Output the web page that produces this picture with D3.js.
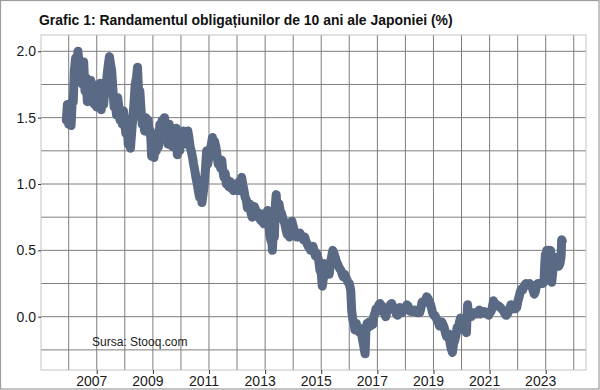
<!DOCTYPE html>
<html><head><meta charset="utf-8">
<script src="https://cdn.jsdelivr.net/npm/d3@7"></script>
<style>body{margin:0;background:#fff}svg{display:block;font-family:"Liberation Sans",Arial,Helvetica,sans-serif}</style>
</head><body><svg id="c" width="600" height="390"></svg>
<script>
const titleText = "Grafic 1: Randamentul obligațiunilor de 10 ani ale Japoniei (%)";
const sourceText = "Sursa: Stooq.com";
const xTickYears = [2007, 2009, 2011, 2013, 2015, 2017, 2019, 2021, 2023];
const xGridYears = [2006, 2007, 2008, 2009, 2010, 2011, 2012, 2013, 2014, 2015, 2016, 2017, 2018, 2019, 2020, 2021, 2022, 2023, 2024];
const yTicks = [0, 0.5, 1, 1.5, 2];
const yTickLabels = ["0.0", "0.5", "1.0", "1.5", "2.0"];
const yGrid = [-0.25, 0, 0.25, 0.5, 0.75, 1, 1.25, 1.5, 1.75, 2];

const dates = [
"2005-12-01","2005-12-15","2006-01-01","2006-01-15","2006-02-01","2006-02-15","2006-03-01","2006-03-15","2006-04-01","2006-04-15","2006-05-01","2006-05-15","2006-06-01","2006-06-15","2006-07-01","2006-07-15","2006-08-01","2006-08-15","2006-09-01","2006-09-15","2006-10-01","2006-10-15","2006-11-01","2006-11-15","2006-12-01","2006-12-15",
"2007-01-01","2007-01-15","2007-02-01","2007-02-15","2007-03-01","2007-03-15","2007-04-01","2007-04-15","2007-05-01","2007-05-15","2007-06-01","2007-06-15","2007-07-01","2007-07-15","2007-08-01","2007-08-15","2007-09-01","2007-09-15","2007-10-01","2007-10-15","2007-11-01","2007-11-15","2007-12-01","2007-12-15",
"2008-01-01","2008-01-15","2008-02-01","2008-02-15","2008-03-01","2008-03-15","2008-04-01","2008-04-15","2008-05-01","2008-05-15","2008-06-01","2008-06-15","2008-07-01","2008-07-15","2008-08-01","2008-08-15","2008-09-01","2008-09-15","2008-10-01","2008-10-15","2008-11-01","2008-11-15","2008-12-01","2008-12-15",
"2009-01-01","2009-01-15","2009-02-01","2009-02-15","2009-03-01","2009-03-15","2009-04-01","2009-04-15","2009-05-01","2009-05-15","2009-06-01","2009-06-15","2009-07-01","2009-07-15","2009-08-01","2009-08-15","2009-09-01","2009-09-15","2009-10-01","2009-10-15","2009-11-01","2009-11-15","2009-12-01","2009-12-15",
"2010-01-01","2010-01-15","2010-02-01","2010-02-15","2010-03-01","2010-03-15","2010-04-01","2010-04-15","2010-05-01","2010-05-15","2010-06-01","2010-06-15","2010-07-01","2010-07-15","2010-08-01","2010-08-15","2010-09-01","2010-09-15","2010-10-01","2010-10-15","2010-11-01","2010-11-15","2010-12-01","2010-12-15",
"2011-01-01","2011-01-15","2011-02-01","2011-02-15","2011-03-01","2011-03-15","2011-04-01","2011-04-15","2011-05-01","2011-05-15","2011-06-01","2011-06-15","2011-07-01","2011-07-15","2011-08-01","2011-08-15","2011-09-01","2011-09-15","2011-10-01","2011-10-15","2011-11-01","2011-11-15","2011-12-01","2011-12-15",
"2012-01-01","2012-01-15","2012-02-01","2012-02-15","2012-03-01","2012-03-15","2012-04-01","2012-04-15","2012-05-01","2012-05-15","2012-06-01","2012-06-15","2012-07-01","2012-07-15","2012-08-01","2012-08-15","2012-09-01","2012-09-15","2012-10-01","2012-10-15","2012-11-01","2012-11-15","2012-12-01","2012-12-15",
"2013-01-01","2013-01-15","2013-02-01","2013-02-15","2013-03-01","2013-03-15","2013-04-01","2013-04-05","2013-04-15","2013-05-01","2013-05-15","2013-05-25","2013-06-01","2013-06-15","2013-07-01","2013-07-15","2013-08-01","2013-08-15","2013-09-01","2013-09-15","2013-10-01","2013-10-15","2013-11-01","2013-11-15","2013-12-01","2013-12-15",
"2014-01-01","2014-01-15","2014-02-01","2014-02-15","2014-03-01","2014-03-15","2014-04-01","2014-04-15","2014-05-01","2014-05-15","2014-06-01","2014-06-15","2014-07-01","2014-07-15","2014-08-01","2014-08-15","2014-09-01","2014-09-15","2014-10-01","2014-10-15","2014-11-01","2014-11-15","2014-12-01","2014-12-15",
"2015-01-01","2015-01-15","2015-02-01","2015-02-15","2015-03-01","2015-03-15","2015-04-01","2015-04-15","2015-05-01","2015-05-15","2015-06-01","2015-06-15","2015-07-01","2015-07-15","2015-08-01","2015-08-15","2015-09-01","2015-09-15","2015-10-01","2015-10-15","2015-11-01","2015-11-15","2015-12-01","2015-12-15",
"2016-01-01","2016-01-20","2016-02-01","2016-02-15","2016-03-01","2016-03-15","2016-04-01","2016-04-15","2016-05-01","2016-05-15","2016-06-01","2016-06-15","2016-07-01","2016-07-25","2016-08-05","2016-08-20","2016-09-01","2016-09-15","2016-10-01","2016-10-15","2016-11-01","2016-11-15","2016-12-01","2016-12-15",
"2017-01-01","2017-01-20","2017-02-05","2017-02-20","2017-03-05","2017-03-20","2017-04-05","2017-04-20","2017-05-05","2017-05-20","2017-06-05","2017-06-20","2017-07-05","2017-07-20","2017-08-05","2017-08-20","2017-09-05","2017-09-20","2017-10-05","2017-10-20","2017-11-05","2017-11-20","2017-12-05","2017-12-20",
"2018-01-05","2018-01-20","2018-02-05","2018-02-20","2018-03-05","2018-03-20","2018-04-05","2018-04-20","2018-05-05","2018-05-20","2018-06-05","2018-06-20","2018-07-05","2018-07-20","2018-08-05","2018-08-20","2018-09-05","2018-09-20","2018-10-05","2018-10-20","2018-11-05","2018-11-20","2018-12-05","2018-12-20",
"2019-01-05","2019-01-20","2019-02-05","2019-02-20","2019-03-05","2019-03-20","2019-04-05","2019-04-20","2019-05-05","2019-05-20","2019-06-05","2019-06-20","2019-07-05","2019-07-20","2019-08-05","2019-08-20","2019-09-05","2019-09-20","2019-10-05","2019-10-20","2019-11-05","2019-11-20","2019-12-05","2019-12-20",
"2020-01-05","2020-01-20","2020-02-05","2020-02-20","2020-03-05","2020-03-15","2020-03-20","2020-04-05","2020-04-20","2020-05-05","2020-05-20","2020-06-05","2020-06-20","2020-07-05","2020-07-20","2020-08-05","2020-08-20","2020-09-05","2020-09-20","2020-10-05","2020-10-20","2020-11-05","2020-11-20","2020-12-05","2020-12-20",
"2021-01-05","2021-01-20","2021-02-05","2021-02-20","2021-03-05","2021-03-20","2021-04-05","2021-04-20","2021-05-05","2021-05-20","2021-06-05","2021-06-20","2021-07-05","2021-07-20","2021-08-05","2021-08-20","2021-09-05","2021-09-20","2021-10-05","2021-10-20","2021-11-05","2021-11-20","2021-12-05","2021-12-20",
"2022-01-05","2022-01-20","2022-02-05","2022-02-20","2022-03-05","2022-03-20","2022-04-05","2022-04-20","2022-05-05","2022-05-20","2022-06-05","2022-06-20","2022-07-05","2022-07-20","2022-08-05","2022-08-20","2022-09-05","2022-09-20","2022-10-05","2022-10-20","2022-11-05","2022-11-20","2022-12-10","2022-12-20","2022-12-28",
"2023-01-05","2023-01-15","2023-01-25","2023-02-05","2023-02-20","2023-03-05","2023-03-20","2023-04-05","2023-04-20","2023-05-05","2023-05-20","2023-06-05","2023-06-20","2023-07-05","2023-07-20","2023-07-28","2023-08-05"
];
const yields = [
1.48,1.60,1.45,1.58,1.44,1.62,1.62,1.85,1.95,1.80,2.00,1.92,1.78,1.90,1.75,1.92,1.70,1.80,1.62,1.72,1.65,1.78,1.62,1.75,1.60,1.70,
1.58,1.72,1.60,1.76,1.56,1.65,1.60,1.70,1.68,1.82,1.90,1.96,1.90,1.85,1.70,1.58,1.62,1.52,1.65,1.58,1.48,1.55,1.45,1.55,
1.45,1.38,1.45,1.30,1.35,1.27,1.40,1.50,1.62,1.75,1.80,1.88,1.65,1.70,1.55,1.45,1.48,1.40,1.50,1.42,1.48,1.38,1.40,1.21,
1.25,1.20,1.30,1.25,1.32,1.28,1.45,1.38,1.48,1.42,1.50,1.38,1.42,1.30,1.45,1.32,1.35,1.28,1.40,1.30,1.42,1.22,1.30,1.25,
1.35,1.30,1.40,1.32,1.38,1.30,1.40,1.35,1.28,1.25,1.20,1.15,1.10,1.05,1.00,0.95,0.90,1.00,0.86,0.92,1.00,1.10,1.25,1.15,
1.20,1.25,1.30,1.35,1.25,1.32,1.28,1.22,1.15,1.18,1.12,1.18,1.10,1.05,1.08,1.00,1.03,0.98,1.02,0.97,1.00,0.95,1.00,0.98,
1.00,0.95,1.02,0.95,1.05,1.00,0.95,0.90,0.88,0.82,0.83,0.85,0.78,0.75,0.80,0.83,0.80,0.78,0.75,0.78,0.73,0.72,0.75,0.70,
0.78,0.75,0.80,0.72,0.62,0.58,0.55,0.50,0.62,0.60,0.85,0.92,0.85,0.80,0.85,0.80,0.78,0.75,0.72,0.70,0.65,0.62,0.62,0.60,0.65,0.72,
0.68,0.65,0.62,0.60,0.62,0.60,0.63,0.60,0.60,0.58,0.60,0.57,0.55,0.53,0.52,0.50,0.52,0.53,0.50,0.46,0.48,0.45,0.42,0.35,
0.33,0.23,0.30,0.40,0.38,0.35,0.38,0.32,0.40,0.45,0.50,0.48,0.45,0.42,0.40,0.38,0.36,0.35,0.32,0.30,0.32,0.30,0.28,0.26,
0.25,0.20,0.05,-0.02,-0.05,-0.10,-0.05,-0.10,-0.08,-0.12,-0.10,-0.15,-0.20,-0.28,-0.10,-0.05,-0.08,-0.04,-0.07,-0.05,-0.06,0.00,0.03,0.06,
0.04,0.09,0.10,0.07,0.08,0.06,0.02,0.00,0.04,0.05,0.06,0.09,0.10,0.08,0.05,0.06,0.02,0.01,0.06,0.07,0.04,0.03,0.05,0.06,
0.07,0.09,0.08,0.05,0.04,0.05,0.04,0.05,0.05,0.04,0.03,0.04,0.03,0.06,0.11,0.10,0.11,0.13,0.15,0.14,0.12,0.10,0.07,0.03,
0.01,0.01,-0.01,-0.03,-0.04,-0.07,-0.05,-0.04,-0.06,-0.08,-0.12,-0.15,-0.14,-0.13,-0.20,-0.24,-0.27,-0.20,-0.18,-0.14,-0.08,-0.10,-0.04,-0.01,
-0.03,-0.02,-0.04,-0.06,-0.12,0.02,0.09,0.00,0.02,0.00,0.01,0.03,0.02,0.03,0.02,0.04,0.05,0.02,0.03,0.03,0.04,0.03,0.02,0.02,0.01,
0.03,0.04,0.07,0.12,0.10,0.08,0.09,0.08,0.08,0.07,0.06,0.05,0.04,0.02,0.01,0.02,0.04,0.05,0.09,0.08,0.07,0.06,0.06,0.07,
0.12,0.15,0.19,0.21,0.20,0.22,0.24,0.25,0.24,0.24,0.25,0.24,0.23,0.20,0.17,0.19,0.24,0.25,0.25,0.25,0.25,0.25,0.26,0.40,0.47,
0.45,0.50,0.40,0.50,0.48,0.50,0.26,0.35,0.45,0.42,0.40,0.43,0.38,0.40,0.45,0.58,0.57
];

const W = 600, H = 390;
const panel = {left: 41, right: 586, top: 35, bottom: 370};
const parse = d3.timeParse("%Y-%m-%d");
const data = dates.map((d, i) => ({date: parse(d), value: yields[i]}));

const x = d3.scaleTime()
  .domain([new Date(2006, 0, 1), new Date(2023, 0, 1)])
  .range([68.7, 545.7]);
const y = d3.scaleLinear().domain([0, 2]).range([316.7, 51.3]);

const svg = d3.select("#c");
svg.append("rect").attr("x", 0).attr("y", 0).attr("width", W).attr("height", H).attr("fill", "#fff");
svg.append("rect").attr("x", 0.5).attr("y", 0.5).attr("width", W - 1.5).attr("height", H - 1.5)
  .attr("fill", "none").attr("stroke", "#9c9c9c").attr("stroke-width", 1.2);

// title
const title = svg.append("text").attr("x", 39).attr("y", 25)
  .attr("font-weight", "bold").attr("font-size", 14).attr("fill", "#111").text(titleText);
const tw = title.node().getComputedTextLength();
title.attr("font-size", (14 * 414 / tw).toFixed(2));

// grid
const g = svg.append("g");
g.selectAll("line.gx").data(xGridYears).join("line")
  .attr("x1", d => x(new Date(d, 0, 1))).attr("x2", d => x(new Date(d, 0, 1)))
  .attr("y1", panel.top).attr("y2", panel.bottom)
  .attr("stroke", "#7d7d7d").attr("stroke-width", 1);
g.selectAll("line.gy").data(yGrid).join("line")
  .attr("x1", panel.left).attr("x2", panel.right)
  .attr("y1", d => y(d)).attr("y2", d => y(d))
  .attr("stroke", "#7d7d7d").attr("stroke-width", 1);

// panel border
svg.append("rect").attr("x", panel.left).attr("y", panel.top)
  .attr("width", panel.right - panel.left).attr("height", panel.bottom - panel.top)
  .attr("fill", "none").attr("stroke", "#c4c4c4").attr("stroke-width", 1);

// clip + line
svg.append("clipPath").attr("id", "clip").append("rect")
  .attr("x", panel.left).attr("y", panel.top)
  .attr("width", panel.right - panel.left).attr("height", panel.bottom - panel.top);
const line = d3.line().x(d => x(d.date)).y(d => y(d.value));
svg.append("path").datum(data).attr("clip-path", "url(#clip)")
  .attr("d", line).attr("fill", "none").attr("stroke", "#5b6a84")
  .attr("stroke-width", 9).attr("stroke-linejoin", "round").attr("stroke-linecap", "round");

// axes
const xAxis = svg.append("g").attr("transform", `translate(0,${panel.bottom})`)
  .call(d3.axisBottom(x).tickValues(xTickYears.map(yr => new Date(yr, 0, 1)))
    .tickFormat(d3.timeFormat("%Y")).tickSize(4).tickPadding(2));
xAxis.select(".domain").remove();
xAxis.selectAll(".tick line").attr("stroke", "#333");
xAxis.selectAll(".tick text").attr("font-size", 14).attr("fill", "#1a1a1a")
  .attr("font-family", "Liberation Sans, Arial, sans-serif").attr("dx", -5.5);

const yAxis = svg.append("g").attr("transform", `translate(${panel.left},0)`)
  .call(d3.axisLeft(y).tickValues(yTicks).tickFormat((d, i) => yTickLabels[i]).tickSize(3).tickPadding(2));
yAxis.select(".domain").remove();
yAxis.selectAll(".tick line").attr("stroke", "#333");
yAxis.selectAll(".tick text").attr("font-size", 14).attr("fill", "#1a1a1a")
  .attr("font-family", "Liberation Sans, Arial, sans-serif");

// source
svg.append("text").attr("x", 92).attr("y", 346).attr("font-size", 12).attr("fill", "#1a1a1a").text(sourceText);
</script></body></html>
